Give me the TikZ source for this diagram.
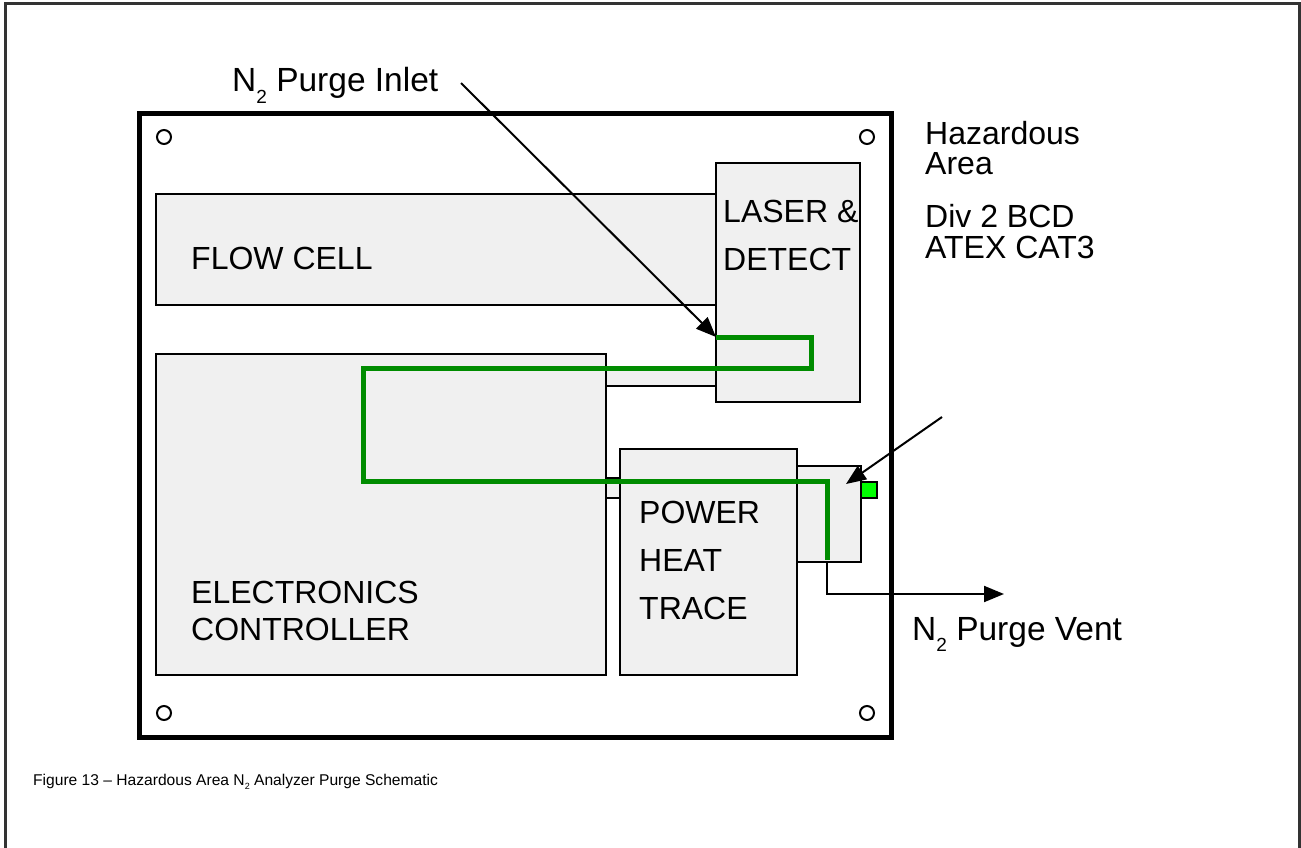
\documentclass[tikz,border=0pt]{standalone}
\usepackage{fontspec}
\setmainfont{Liberation Sans}
\usetikzlibrary{arrows.meta}
\definecolor{boxfill}{HTML}{F0F0F0}
\definecolor{pipe}{RGB}{0,140,0}
\definecolor{led}{RGB}{0,255,0}
\definecolor{framecol}{HTML}{333333}
\newcommand{\mysub}[1]{\raisebox{-0.33em}{\fontsize{19}{19}\selectfont #1}}
\newcommand{\capsub}[1]{\raisebox{-0.3em}{\fontsize{9}{9}\selectfont #1}}
\begin{document}
\begin{tikzpicture}[x=1pt,y=-1pt,
  box/.style={draw=black, fill=boxfill, line width=2pt, inner sep=0pt, outer sep=0pt, anchor=north west},
  screw/.style={circle, draw=black, line width=2pt, minimum size=14pt, inner sep=0pt},
  lbl/.style={anchor=base west, inner sep=0pt, font=\fontsize{32}{38}\selectfont},
  biglbl/.style={anchor=base west, inner sep=0pt, font=\fontsize{33.5}{38}\selectfont},
  arr/.style={line width=2pt, -{Triangle[length=20pt,width=16pt]}},
  pipeline/.style={draw=pipe, line width=5pt}]

\useasboundingbox (0,0) rectangle (1301,848);
\draw[framecol, line width=3pt] (5.5,848) -- (5.5,3.5) -- (1299.5,3.5) -- (1299.5,848);

% enclosure
\node[draw=black, line width=5pt, minimum width=751.5pt, minimum height=623.5pt,
      anchor=north west, inner sep=0pt, outer sep=0pt] (encl) at (139.5,113.5) {};

% screw holes
\node[screw] (s1) at (164,137) {};
\node[screw] (s2) at (867,137) {};
\node[screw] (s3) at (164,713) {};
\node[screw] (s4) at (867,713) {};

% connectors between modules
\node[box, minimum width=110pt, minimum height=16pt] (conn1) at (606,370) {};
\node[box, minimum width=14pt, minimum height=20pt] (conn2) at (606,478) {};

% modules
\node[box, minimum width=560pt, minimum height=111pt] (flow) at (156,194) {};
\node[box, minimum width=144pt, minimum height=239pt] (laser) at (716,163) {};
\node[box, minimum width=450pt, minimum height=321pt] (elec) at (156,354) {};
\node[box, minimum width=177pt, minimum height=226pt] (power) at (620,449) {};
\node[box, minimum width=64pt, minimum height=96pt] (vbox) at (797,466) {};
\node[draw=black, fill=led, line width=2pt, minimum width=16pt, minimum height=16pt,
      inner sep=0pt, outer sep=0pt, anchor=north west] (led) at (861,482) {};

% labels
\node[biglbl] (tinlet) at (232,92) {N\mysub{2} Purge Inlet};
\node[lbl] (tflow) at (191,269) {FLOW CELL};
\node[lbl] (tlaser1) at (723,222) {LASER \&};
\node[lbl] (tlaser2) at (723,270) {DETECT};
\node[lbl] (th1) at (925,145) {Hazardous};
\node[lbl] (th2) at (925,175) {Area};
\node[lbl] (th3) at (925,227) {Div 2 BCD};
\node[lbl] (th4) at (925,258) {ATEX CAT3};
\node[lbl] (te1) at (191,603) {ELECTRONICS};
\node[lbl] (te2) at (191,640) {CONTROLLER};
\node[lbl] (tp1) at (639,523) {POWER};
\node[lbl] (tp2) at (639,571) {HEAT};
\node[lbl] (tp3) at (639,619) {TRACE};
\node[biglbl] (tvent) at (912,640) {N\mysub{2} Purge Vent};
\node[anchor=base west, inner sep=0pt, font=\fontsize{15.6}{19}\selectfont] (cap) at (33,785)
  {Figure 13 -- Hazardous Area N\capsub{2} Analyzer Purge Schematic};

% purge path
\coordinate (inlet) at (716,337);
\coordinate (pend) at (827,560);
\draw[pipeline] (inlet) -- (811,337) -- (811,368) -- (363,368) -- (363,481) -- (827,481) -- (pend);

% arrows
\coordinate (inletstart) at (461,83);
\draw[arr] (inletstart) -- (inlet);
\coordinate (vstart) at (942,417);
\coordinate (vtip) at (846,484);
\draw[arr] (vstart) -- (vtip);
\coordinate (vbot) at (827,562);
\coordinate (ventend) at (1004,594);
\draw[arr] (vbot) -- (827,594) -- (ventend);
\end{tikzpicture}
\end{document}
